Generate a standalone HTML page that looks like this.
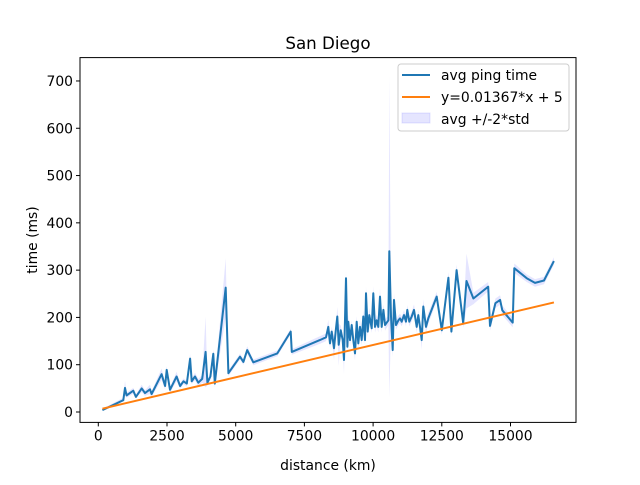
<!DOCTYPE html>
<html><head><meta charset="utf-8"><style>
body{margin:0;background:#fff}
svg{font-family:"DejaVu Sans","Liberation Sans",sans-serif}
</style></head><body>
<svg id="chart" width="640" height="480" xmlns="http://www.w3.org/2000/svg">
<rect width="640" height="480" fill="#fff"/>
<text x="328" y="49" text-anchor="middle" font-size="16.7">San Diego</text>
<g id="plot"></g>
<text x="328" y="470" text-anchor="middle" font-size="13.9">distance (km)</text>
<text transform="translate(37,240) rotate(-90)" text-anchor="middle" font-size="13.9">time (ms)</text>
<g>
<rect x="398" y="64" width="171" height="67" rx="3" fill="#fff" fill-opacity="0.8" stroke="#ccc"/>
<line x1="402" y1="75" x2="430" y2="75" stroke="#1f77b4" stroke-width="2"/>
<text x="441" y="80" font-size="13.9">avg ping time</text>
<line x1="402" y1="97" x2="430" y2="97" stroke="#ff7f0e" stroke-width="2"/>
<text x="441" y="102" font-size="13.9">y=0.01367*x + 5</text>
<rect x="402" y="113" width="28" height="10" fill="#0000ff" fill-opacity="0.1" stroke="#0000ff" stroke-opacity="0.1"/>
<text x="441" y="124" font-size="13.9">avg +/-2*std</text>
</g>
</svg>
<script>
const distances=[150,910,970,1030,1275,1370,1580,1700,1880,1940,2305,2430,2490,2610,2850,2975,3100,3220,3340,3400,3520,3640,3780,3905,3970,4080,4185,4240,4635,4735,5155,5280,5420,5640,6515,7000,7040,8060,8286,8371,8432,8493,8577,8650,8699,8747,8820,8893,8941,9014,9063,9099,9160,9220,9281,9342,9402,9463,9524,9584,9645,9706,9742,9803,9863,9948,10009,10069,10130,10191,10251,10312,10373,10433,10555,10591,10652,10712,10761,10834,10919,10979,11040,11125,11198,11246,11319,11404,11489,11586,11646,11707,11768,11828,11925,12010,12315,12500,12740,12850,13040,13280,13400,13650,14190,14255,14450,14620,14700,15080,15140,15590,15890,16220,16580];
const avgPing=[4,25,51,35,45,32,50,40,48,38,80,55,89,47,75,55,65,60,113,65,75,62,70,127,62,75,123,60,263,82,117,106,131,105,124,170,127,152,158,180,145,170,135,177,202,142,173,152,110,283,138,191,152,184,152,124,191,145,180,152,202,152,251,170,205,177,251,180,194,180,244,180,216,184,194,340,202,131,237,184,194,198,191,205,191,216,191,202,216,180,205,180,152,223,180,198,244,173,284,170,300,188,277,240,265,182,230,237,215,189,304,283,273,278,319];
const bandHalf=[3,5,15,6,6,5,8,6,10,6,12,8,8,6,10,6,6,6,10,6,8,8,8,75,6,8,10,8,62,6,6,6,8,6,6,6,6,8,8,15,10,10,25,10,20,45,10,12,30,15,12,15,12,10,12,15,12,10,15,12,15,10,15,12,15,10,15,12,12,12,18,12,12,12,10,372,20,15,15,10,10,10,10,10,10,10,10,10,12,12,10,10,20,15,12,12,10,10,12,10,12,10,58,12,10,10,10,10,10,10,10,8,8,8,8];
const fitSlope=0.01367, fitIntercept=5;
const xTicks=[0,2500,5000,7500,10000,12500,15000];
const yTicks=[0,100,200,300,400,500,600,700];

const L=80,R=576,T=57.6,B=422.4;
const X=v=>98.3+v*0.02748;
const Y=v=>412-v*0.4729;
const NS="http://www.w3.org/2000/svg";
const g=document.getElementById('plot');
function mk(t,a){const e=document.createElementNS(NS,t);for(const k in a)e.setAttribute(k,a[k]);g.appendChild(e);return e;}
let up=[],lo=[];
distances.forEach((d,i)=>{up.push(X(d).toFixed(1)+','+Y(avgPing[i]+bandHalf[i]).toFixed(1));lo.unshift(X(d).toFixed(1)+','+Y(Math.max(30,avgPing[i]-bandHalf[i])<avgPing[i]-bandHalf[i]?avgPing[i]-bandHalf[i]:Math.min(avgPing[i],Math.max(30,avgPing[i]-bandHalf[i]))).toFixed(1));});
const band=mk('polygon',{points:up.concat(lo).join(' '),fill:'#0000ff','fill-opacity':0.1});


const line=mk('polyline',{points:distances.map((d,i)=>X(d).toFixed(1)+','+Y(avgPing[i]).toFixed(1)).join(' '),fill:'none',stroke:'#1f77b4','stroke-width':2,'stroke-linejoin':'round'});


const d0=distances[0],d1=distances[distances.length-1];
const fit=mk('line',{x1:X(d0),y1:Y(fitSlope*d0+fitIntercept),x2:X(d1),y2:Y(fitSlope*d1+fitIntercept),stroke:'#ff7f0e','stroke-width':2});


const frame=mk('rect',{x:L,y:T,width:R-L,height:B-T,fill:'none',stroke:'#000','stroke-width':1});


xTicks.forEach(v=>{const x=X(v);
const t=mk('line',{x1:x,y1:B,x2:x,y2:B+4,stroke:'#000'});


const l=mk('text',{x:x,y:B+18,'text-anchor':'middle','font-size':13.9});l.textContent=v;

});
yTicks.forEach(v=>{const y=Y(v);
const t=mk('line',{x1:L-4,y1:y,x2:L,y2:y,stroke:'#000'});


const l=mk('text',{x:L-7,y:y+5,'text-anchor':'end','font-size':13.9});l.textContent=v;

});
</script>
</body></html>
